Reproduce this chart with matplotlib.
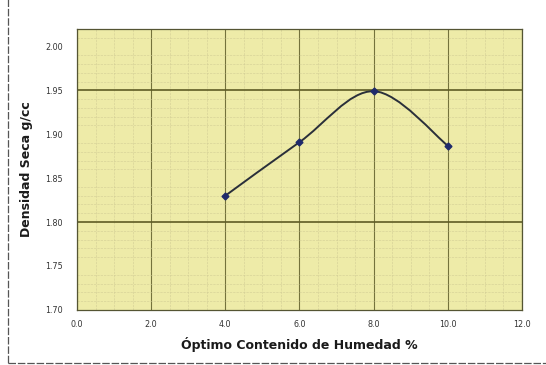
import matplotlib
matplotlib.use('Agg')
import matplotlib.pyplot as plt
import numpy as np
from matplotlib.path import Path
from matplotlib.patches import PathPatch, Rectangle

# Datos
humedad = [4.0, 6.0, 8.0, 10.0]
densidad = [1.830, 1.891, 1.949, 1.887]
x_ticks = [0, 2, 4, 6, 8, 10, 12]
y_ticks = [1.70, 1.75, 1.80, 1.85, 1.90, 1.95, 2.00]
lineas_mayores_y = [1.80, 1.95]

fig = plt.figure(figsize=(5.46, 3.65), dpi=100)
ax = fig.add_axes([0.141, 0.151, 0.815, 0.770])

fondo = '#eeeba8'
ax.set_facecolor(fondo)
ax.set_xlim(0, 12)
ax.set_ylim(1.70, 2.02)

# Rejilla menor (papel milimetrado)
ax.set_xticks(np.arange(0, 12.01, 0.5), minor=True)
ax.set_yticks(np.arange(1.70, 2.02, 0.01), minor=True)
ax.grid(True, which='minor', color='#cfcb94', linestyle='--', linewidth=0.45, alpha=0.8)
ax.set_xticks(x_ticks)
ax.set_yticks(y_ticks)
ax.grid(True, which='major', axis='x', color='#74723c', linewidth=0.8)
for yv in lineas_mayores_y:
    ax.axhline(yv, color='#5e5c24', linewidth=1.2)
ax.tick_params(which='both', length=0)
ax.set_axisbelow(True)

# Linea suavizada estilo Excel (Bezier tipo Catmull-Rom)
pts = np.column_stack([humedad, densidad])
ext = np.vstack([pts[0], pts, pts[-1]])
verts = [tuple(pts[0])]
codes = [Path.MOVETO]
for i in range(len(pts) - 1):
    p0, p1, p2, p3 = ext[i], ext[i + 1], ext[i + 2], ext[i + 3]
    c1 = p1 + (p2 - p0) / 6.0
    c2 = p2 - (p3 - p1) / 6.0
    verts += [tuple(c1), tuple(c2), tuple(p2)]
    codes += [Path.CURVE4] * 3
ax.add_patch(PathPatch(Path(verts, codes), facecolor='none',
                       edgecolor='#2a2f3a', linewidth=1.4, zorder=3))
ax.plot(humedad, densidad, linestyle='none', marker='D', markersize=3.5,
        color='#1f2a6b', zorder=4)

ax.set_xticklabels([f"{v:.1f}" for v in x_ticks], fontsize=5.8, color='#333333')
ax.set_yticklabels([f"{v:.2f}" for v in y_ticks], fontsize=5.8, color='#333333')
ax.tick_params(axis='x', pad=7)
ax.tick_params(axis='y', pad=10)

for s in ax.spines.values():
    s.set_color('#555533')
    s.set_linewidth(0.9)

ax.set_xlabel("Óptimo Contenido de Humedad %", fontsize=9, fontweight='bold',
              color='#1a1a1a', labelpad=6)
ax.set_ylabel("Densidad Seca g/cc", fontsize=9, fontweight='bold',
              color='#1a1a1a', labelpad=9)

# Marco exterior del grafico (borde superior fuera de la imagen)
fig.patches.append(Rectangle((0.015, 0.006), 1.2, 1.2, transform=fig.transFigure,
                             fill=False, edgecolor='#555555', linewidth=0.9,
                             linestyle=(0, (6, 1.5))))

fig.savefig('out.png', dpi=100)
